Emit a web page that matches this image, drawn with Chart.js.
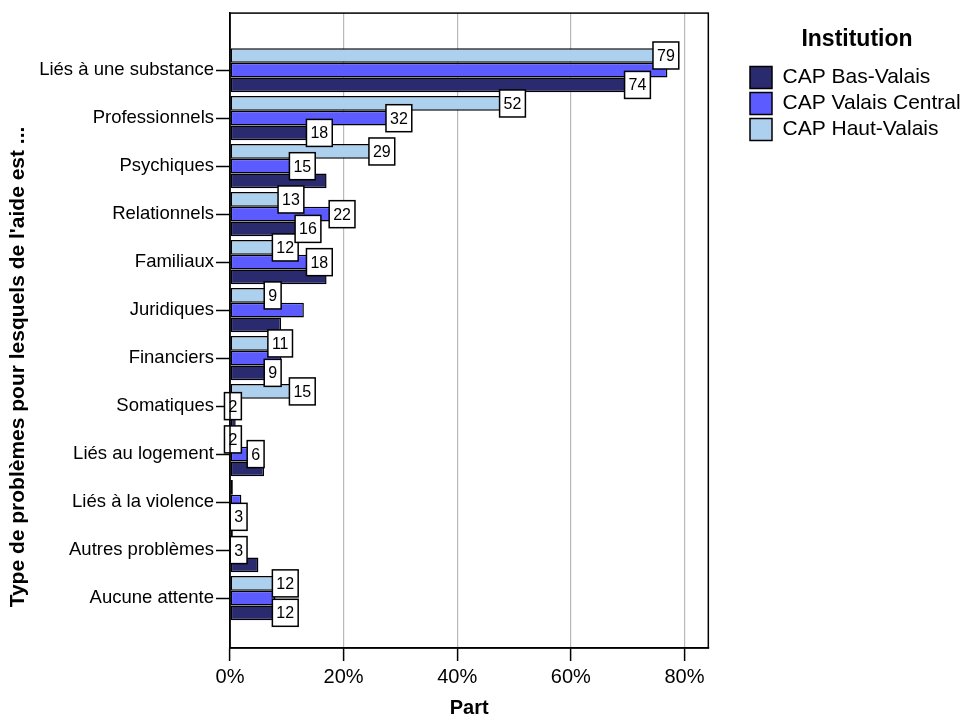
<!DOCTYPE html>
<html>
<head>
<meta charset="utf-8">
<script src="https://cdn.jsdelivr.net/npm/chart.js@4/dist/chart.umd.min.js"></script>
<style>
  html, body { margin: 0; padding: 0; background: #fff; }
  #wrap { width: 963px; height: 718px; }
</style>
</head>
<body>
<div id="wrap"><canvas id="chart" width="963" height="718"></canvas></div>
<script>
const categories = [
  "Liés à une substance", "Professionnels", "Psychiques", "Relationnels",
  "Familiaux", "Juridiques", "Financiers", "Somatiques",
  "Liés au logement", "Liés à la violence", "Autres problèmes", "Aucune attente",
];
// share of clients (%) per institution
const hautValais    = [79, 52, 29, 13, 12, 9, 11, 15, 2, 0.5, 0.5, 12];
const valaisCentral = [77, 32, 15, 22, 18, 13, 9, 2, 6, 2, 3, 8];
const basValais     = [74, 18, 17, 16, 17, 9, 9, 1, 6, 3, 5, 12];
// which bars carry a value box
const showHaut    = [1, 1, 1, 1, 1, 1, 1, 1, 1, 0, 0, 1];
const showCentral = [0, 1, 1, 1, 1, 0, 0, 1, 1, 0, 1, 0];
const showBas     = [1, 1, 0, 1, 0, 0, 1, 0, 0, 1, 0, 1];
const xTicks = [0, 20, 40, 60, 80];

const FONT = '"Liberation Sans", Arial, sans-serif';
const GRID = "#b9b9b9";

const toPoints = (arr) => arr.map((v, i) => ({ x: v, y: i }));

// reserve room right of the plot, then place the legend column
const legendGap = {
  id: "legendGap",
  afterInit(chart) {
    const lg = chart.legend;
    const fit = lg.fit;
    lg.fit = function () {
      fit.call(this);
      this.width += 30;
    };
  },
  afterLayout(chart) {
    const lg = chart.legend;
    lg.left = 746;
    lg.width = 222;
    lg.right = lg.left + lg.width;
  },
};

const frame = {
  id: "frame",
  afterDraw(chart) {
    const { ctx, chartArea: a } = chart;
    ctx.save();
    ctx.strokeStyle = "#000";
    ctx.lineWidth = 1.5;
    ctx.strokeRect(a.left, a.top, a.right - a.left, a.bottom - a.top);
    // rotated y title
    ctx.fillStyle = "#000";
    ctx.font = "bold 21px " + FONT;
    ctx.translate(18, 367);
    ctx.rotate(-Math.PI / 2);
    ctx.textAlign = "center";
    ctx.textBaseline = "middle";
    ctx.fillText("Type de problèmes pour lesquels de l'aide est ...", 0, 0);
    ctx.restore();
  },
};

const valueLabels = {
  id: "valueLabels",
  afterDatasetsDraw(chart) {
    const ctx = chart.ctx;
    const flags = [showHaut, showCentral, showBas];
    ctx.save();
    ctx.font = "16px " + FONT;
    ctx.lineWidth = 1.5;
    chart.data.datasets.forEach((ds, di) => {
      const meta = chart.getDatasetMeta(di);
      meta.data.forEach((bar, i) => {
        if (!flags[di][i]) return;
        const text = String(Math.round(ds.data[i].x));
        const w = ctx.measureText(text).width + 8;
        const h = 27;
        const x = bar.x - w;
        const y = bar.y - h / 2;
        ctx.fillStyle = "#fff";
        ctx.fillRect(x, y, w, h);
        ctx.strokeStyle = "#000";
        ctx.strokeRect(x, y, w, h);
        ctx.fillStyle = "#000";
        ctx.textAlign = "center";
        ctx.textBaseline = "middle";
        ctx.fillText(text, x + w / 2, bar.y + 1);
      });
    });
    ctx.restore();
  },
};

new Chart(document.getElementById("chart"), {
  type: "bar",
  data: {
    datasets: [
      { label: "CAP Haut-Valais", data: toPoints(hautValais), backgroundColor: "#acd0ee" },
      { label: "CAP Valais Central", data: toPoints(valaisCentral), backgroundColor: "#5b5bff" },
      { label: "CAP Bas-Valais", data: toPoints(basValais), backgroundColor: "#2a2a6e" },
    ].map((d) => ({ ...d, borderColor: "#000", borderWidth: 1.5, borderSkipped: false })),
  },
  options: {
    indexAxis: "y",
    responsive: false,
    animation: false,
    categoryPercentage: 0.92,
    barPercentage: 1,
    layout: { padding: { top: 13, left: 0, right: 0, bottom: 0 } },
    scales: {
      x: {
        type: "linear",
        min: 0,
        max: 84.2,
        afterBuildTicks: (scale) => { scale.ticks = xTicks.map((v) => ({ value: v })); },
        afterFit: (scale) => { scale.height = 70; },
        ticks: {
          callback: (v) => v + "%",
          color: "#000",
          font: { family: FONT, size: 20 },
          padding: 4,
          maxRotation: 0,
        },
        grid: {
          color: (c) => (c.tick && c.tick.value === 0 ? "rgba(0,0,0,0)" : GRID),
          lineWidth: 1.2,
          tickColor: "#000",
          tickLength: 13,
          tickWidth: 1.5,
        },
        border: { color: "#000", width: 1.5 },
        title: {
          display: true,
          text: "Part",
          color: "#000",
          font: { family: FONT, size: 20, weight: "bold", lineHeight: 1 },
          padding: { top: 4, bottom: 0 },
        },
      },
      y: {
        type: "linear",
        reverse: true,
        offset: false,
        min: -1.19,
        max: 12.04,
        afterBuildTicks: (scale) => { scale.ticks = categories.map((c, i) => ({ value: i })); },
        afterFit: (scale) => { scale.width = 230; },
        ticks: {
          callback: (v) => categories[v],
          color: "#000",
          font: { family: FONT, size: 18.5 },
          padding: 2,
        },
        grid: {
          offset: false,
          drawOnChartArea: false,
          tickColor: "#000",
          tickLength: 14,
          tickWidth: 1.5,
        },
        border: { color: "#000", width: 1.5 },
      },
    },
    plugins: {
      tooltip: { enabled: false },
      legend: {
        position: "right",
        align: "start",
        reverse: true,
        title: {
          display: true,
          text: "Institution",
          color: "#000",
          font: { family: FONT, size: 23, weight: "bold" },
          padding: { top: 15, bottom: 7 },
        },
        labels: {
          color: "#000",
          font: { family: FONT, size: 21 },
          boxWidth: 22,
          boxHeight: 22,
          padding: 4,
        },
      },
    },
  },
  plugins: [legendGap, valueLabels, frame],
});
</script>
</body>
</html>
